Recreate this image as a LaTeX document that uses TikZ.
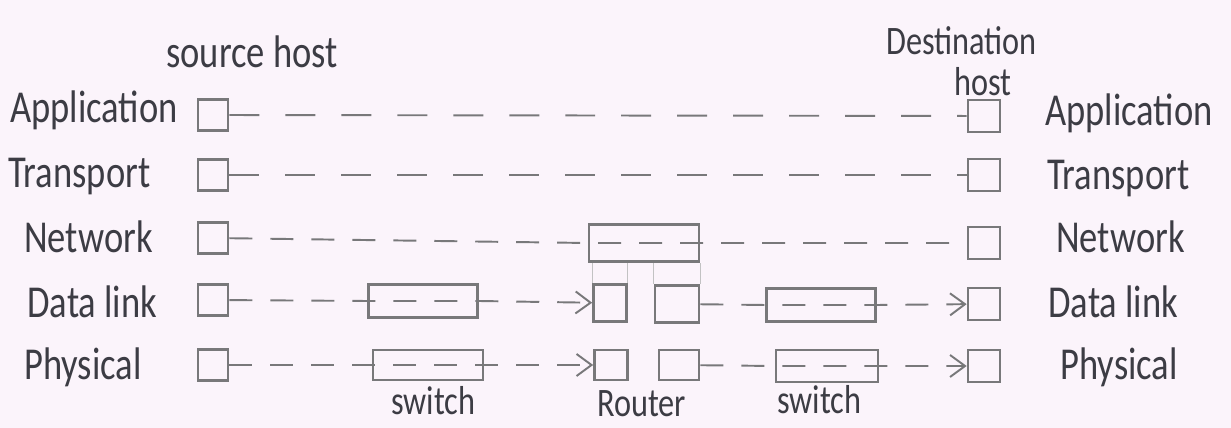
\documentclass[tikz,border=0pt]{standalone}
\usepackage{fontspec}
\newfontfamily\mano{Carlito}[FakeStretch=0.8]
\usetikzlibrary{arrows.meta,positioning}
\definecolor{papel}{RGB}{251,244,251}
\definecolor{lapiz}{RGB}{120,120,122}
\definecolor{tinta}{RGB}{60,60,68}
\tikzset{
  caja/.style={draw=lapiz, line width=1.5pt, inner sep=0pt, minimum width=6mm, minimum height=6.2mm},
  ancha/.style={caja, minimum width=21.8mm, minimum height=6.6mm},
  capa/.style={font=\mano\fontsize{26}{28}\selectfont, text=tinta, inner sep=0pt},
  rotulo/.style={capa, font=\mano\fontsize{23}{25}\selectfont},
  raya/.style={lapiz, line width=1.1pt, dash pattern=on 6mm off 5.2mm},
  rayita/.style={lapiz, line width=1.1pt, dash pattern=on 4.6mm off 3.6mm},
  fl/.style={rayita, -{Straight Barb[length=3mm,width=4.4mm]}},
  tenue/.style={lapiz!45, line width=0.6pt},
}
\begin{document}
\begin{tikzpicture}[x=0.02cm, y=-0.02cm]
  \fill[papel] (0,0) rectangle (1231,428);
  \useasboundingbox (0,0) rectangle (1231,428);
  % cabeceras
  \node[capa, anchor=base west] (src) at (166,68) {source host};
  \node[rotulo, anchor=base west] (dst) at (886,55) {Destination};
  \node[rotulo, anchor=base west] (dsth) at (954,96) {host};
  % capas del origen
  \node[capa, anchor=base west] (la) at (10,123) {Application};
  \node[capa, anchor=base west] (lt) at (8,188) {Transport};
  \node[capa, anchor=base west] (ln) at (24,253) {Network};
  \node[capa, anchor=base west] (ld) at (27,318) {Data link};
  \node[capa, anchor=base west] (lp) at (24,380) {Physical};
  \node[caja] (sA) at (213,115) {};
  \node[caja] (sT) at (213,175) {};
  \node[caja] (sN) at (213,238) {};
  \node[caja] (sD) at (213,300) {};
  \node[caja] (sP) at (213,365) {};
  % capas del destino
  \node[caja, minimum width=6.4mm, minimum height=6.4mm] (dA) at (984,116) {};
  \node[caja, minimum width=6.4mm, minimum height=6.4mm] (dT) at (984,175) {};
  \node[caja, minimum width=6.4mm, minimum height=6.4mm] (dN) at (984,243) {};
  \node[caja, minimum width=6.4mm, minimum height=6.4mm] (dD) at (984,304) {};
  \node[caja, minimum width=6.4mm, minimum height=6.4mm] (dP) at (984,366) {};
  \node[capa, anchor=base west] (ra) at (1045,126) {Application};
  \node[capa, anchor=base west] (rt) at (1047,190) {Transport};
  \node[capa, anchor=base west] (rn) at (1056,253) {Network};
  \node[capa, anchor=base west] (rd) at (1048,318) {Data link};
  \node[capa, anchor=base west] (rp) at (1060,380) {Physical};
  % router
  \node[ancha, minimum width=22mm, minimum height=7.4mm] (rN) at (644,243) {};
  \node[caja, minimum width=6.6mm, minimum height=7.4mm] (rDl) at (610,303) {};
  \node[caja, minimum width=8.8mm, minimum height=7.4mm] (rDr) at (677,304) {};
  \node[caja, minimum width=6.6mm, minimum height=6mm] (rPl) at (611,365) {};
  \node[caja, minimum width=8mm, minimum height=6mm] (rPr) at (679,365) {};
  % switches
  \node[ancha] (swaD) at (423,301) {};
  \node[ancha, minimum width=22mm, minimum height=6mm] (swaP) at (428,365) {};
  \node[ancha] (swbD) at (821,305) {};
  \node[ancha, minimum width=20.4mm, minimum height=6.4mm] (swbP) at (827,366) {};
  \node[rotulo, anchor=base west] (swa) at (391,415) {switch};
  \node[rotulo, anchor=base west] (rou) at (597,417) {Router};
  \node[rotulo, anchor=base west] (swb) at (777,414) {switch};
  % enlaces
  \draw[raya] (sA) -- (dA);
  \draw[raya] (sT) -- (dT);
  \draw[rayita] (sN) -- (rN.west) -- (rN.east) -- (dN);
  \draw[fl] (sD) -- (swaD.west) -- (swaD.east) -- (rDl);
  \draw[fl] (rDr) -- (swbD.west) -- (swbD.east) -- (dD);
  \draw[fl] (sP) -- (swaP.west) -- (swaP.east) -- (rPl);
  \draw[fl] (rPr) -- (swbP.west) -- (swbP.east) -- (dP);
  \draw[tenue] (rDl.north west) -- (rDl.north west |- rN.south);
  \draw[tenue] (rDl.north east) -- (rDl.north east |- rN.south);
  \draw[tenue] (rDr.north west) -- (rDr.north west |- rN.south);
  \draw[tenue] (rDr.north east) -- (rDr.north east |- rN.south);
\end{tikzpicture}
\end{document}
